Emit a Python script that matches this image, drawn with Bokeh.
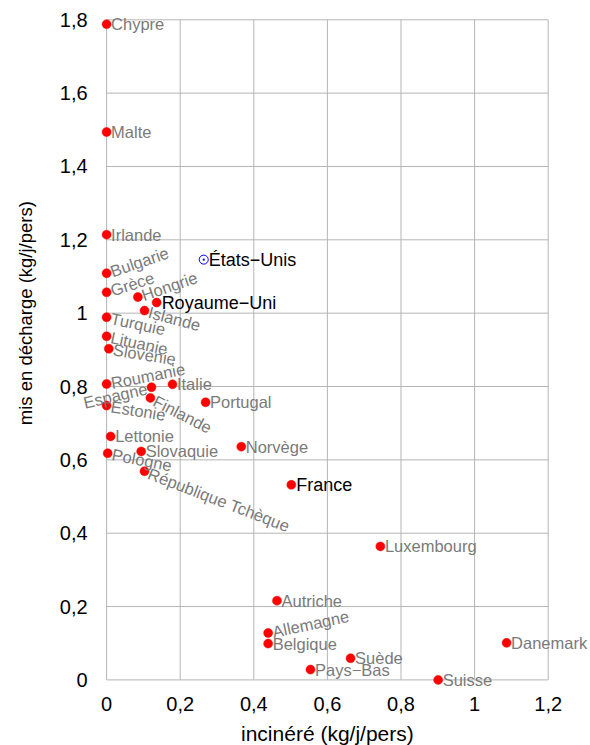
import math
from bokeh.plotting import figure
from bokeh.models import ColumnDataSource, LabelSet, Label, Range1d, FixedTicker
from bokeh.core.properties import value
from bokeh.embed import file_html
from bokeh.resources import INLINE

# ---------------- data ----------------
countries = ["Chypre", "Malte", "Irlande", "Bulgarie", "Grèce", "Hongrie",
             "Royaume−Uni", "Islande", "Turquie", "Lituanie", "Slovénie",
             "Roumanie", "Italie", "Espagne", "Finlande", "Estonie", "Portugal",
             "Lettonie", "Norvège", "Slovaquie", "Pologne", "République Tchèque",
             "France", "Luxembourg", "Autriche", "Allemagne", "Belgique",
             "Danemark", "Suède", "Pays−Bas", "Suisse"]
incinere = [0.0, 0.0, 0.0, 0.0, 0.0, 0.085,
            0.136, 0.103, 0.0, 0.0, 0.006,
            0.0, 0.179, 0.122, 0.119, 0.0, 0.269,
            0.011, 0.366, 0.094, 0.003, 0.103,
            0.502, 0.744, 0.463, 0.439, 0.439,
            1.087, 0.663, 0.554, 0.901]
decharge = [1.788, 1.494, 1.214, 1.109, 1.057, 1.044,
            1.029, 1.007, 0.989, 0.937, 0.903,
            0.807, 0.806, 0.798, 0.769, 0.748, 0.757,
            0.664, 0.636, 0.623, 0.618, 0.569,
            0.532, 0.364, 0.216, 0.128, 0.099,
            0.101, 0.059, 0.028, 0.000]

us_name = ["États−Unis"]
us_incinere = [0.264]
us_decharge = [1.146]

x_ticks = [0, 0.2, 0.4, 0.6, 0.8, 1.0, 1.2]
x_tick_labels = ["0", "0,2", "0,4", "0,6", "0,8", "1", "1,2"]
y_ticks = [0, 0.2, 0.4, 0.6, 0.8, 1.0, 1.2, 1.4, 1.6, 1.8]
y_tick_labels = ["0", "0,2", "0,4", "0,6", "0,8", "1", "1,2", "1,4", "1,6", "1,8"]

x_title = "incinéré (kg/j/pers)"
y_title = "mis en décharge (kg/j/pers)"

# ---------------- label styles ----------------
label_angle = {"Bulgarie": 19, "Grèce": 18, "Hongrie": 19, "Islande": -15,
               "Turquie": -12, "Lituanie": -12, "Slovénie": -9, "Roumanie": 11,
               "Espagne": 13, "Finlande": -27, "Estonie": -9, "Pologne": -11,
               "République Tchèque": -21, "Allemagne": 12}
left_side = {"Espagne"}
highlight = {"Royaume−Uni", "France", "États−Unis"}

GRAY = "#7a7a7a"
FONT = "Liberation Sans"


def label_columns(names, xs, ys):
    ang, xo, yo, align, col, size = [], [], [], [], [], []
    for n in names:
        a = label_angle.get(n, 0)
        d = 5.0 if n in highlight else 4.5
        s = -1 if n in left_side else 1
        ang.append(a)
        xo.append(s * d * math.cos(math.radians(a)))
        yo.append(s * d * math.sin(math.radians(a)))
        align.append("right" if n in left_side else "left")
        col.append("#000000" if n in highlight else GRAY)
        size.append("18px" if n in highlight else "16.5px")
    return dict(x=xs, y=ys, name=names, angle=ang, xo=xo, yo=yo,
                align=align, color=col, size=size)


# ---------------- figure ----------------
p = figure(frame_width=590, frame_height=745,
           min_border_left=0, min_border_right=0, min_border_top=0, min_border_bottom=0,
           x_range=Range1d(-0.2883, 1.315), y_range=Range1d(-0.1789, 1.8526),
           output_backend="svg", toolbar_location=None)
p.outline_line_color = None
p.grid.visible = False
p.background_fill_color = "white"
p.border_fill_color = "white"

# grid lines (from tick lists)
p.segment(x0=x_ticks, y0=[y_ticks[0]] * len(x_ticks), x1=x_ticks, y1=[y_ticks[-1]] * len(x_ticks),
          line_color="#b5b5b5", line_width=1)
p.segment(x0=[x_ticks[0]] * len(y_ticks), y0=y_ticks, x1=[x_ticks[-1]] * len(y_ticks), y1=y_ticks,
          line_color="#b5b5b5", line_width=1)

# axes, drawn along the x = 0 and y = 0 lines
for ax in (p.xaxis[0], p.yaxis[0]):
    ax.axis_line_color = None
    ax.major_tick_line_color = None
    ax.minor_tick_line_color = None
    ax.major_label_text_font = FONT
    ax.major_label_text_font_size = "20px"
    ax.major_label_text_color = "black"

p.xaxis.ticker = FixedTicker(ticks=x_ticks)
p.xaxis.major_label_overrides = dict(zip(x_ticks, x_tick_labels))
p.yaxis.ticker = FixedTicker(ticks=y_ticks)
p.yaxis.major_label_overrides = dict(zip(y_ticks, y_tick_labels))
p.xaxis.fixed_location = y_ticks[0]
p.yaxis.fixed_location = x_ticks[0]
p.xaxis.major_label_standoff = 11
p.yaxis.major_label_standoff = 13

# axis titles
p.add_layout(Label(x=(x_ticks[0] + x_ticks[-1]) / 2, y=-0.145, text=x_title,
                   text_align="center", text_baseline="middle",
                   text_font=FONT, text_font_size="21px", text_color="black"))
p.add_layout(Label(x=25, y=1.0, x_units="screen", y_units="data", text=y_title,
                   angle=90, angle_units="deg", text_align="center", text_baseline="middle",
                   text_font=FONT, text_font_size="18.5px", text_color="black"))

# points
src = ColumnDataSource(label_columns(countries, incinere, decharge))
p.scatter("x", "y", source=src, size=9, fill_color="#ff0000", line_color="#ff0000", line_width=0.5)

us_src = ColumnDataSource(label_columns(us_name, us_incinere, us_decharge))
p.scatter("x", "y", source=us_src, marker="circle_dot", size=9, fill_color=None,
          line_color="#0000ff", line_width=1)

for s in (src, us_src):
    p.add_layout(LabelSet(x="x", y="y", text="name", source=s, angle="angle", angle_units="deg",
                          x_offset="xo", y_offset="yo", text_align="align",
                          text_baseline="middle", text_color="color",
                          text_font_size="size", text_font=value(FONT)))

open("out.html", "w").write(file_html(p, INLINE))
